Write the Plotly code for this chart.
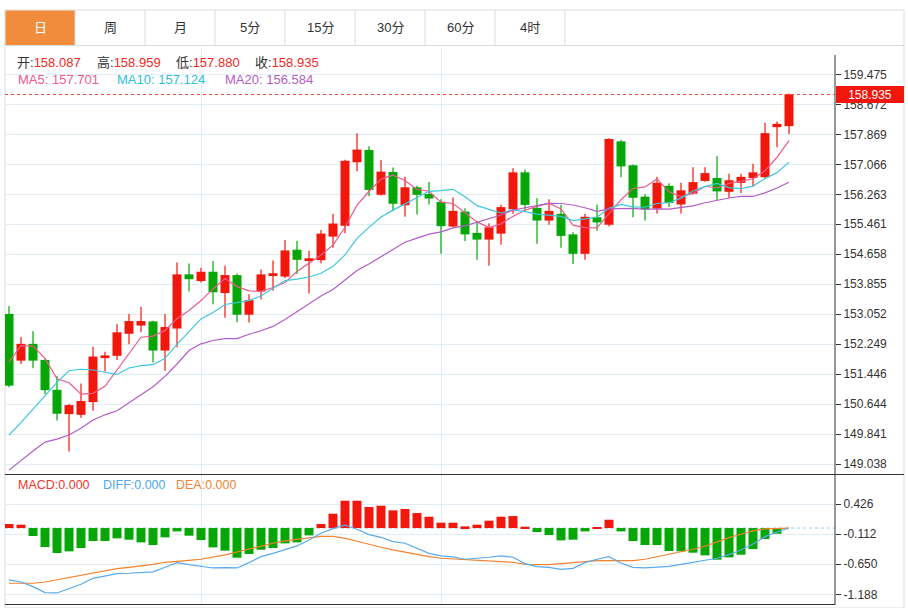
import plotly.graph_objects as go

W, H = 908, 608

# ---------------- data ----------------
opens = [153.06, 151.81, 152.26, 151.83, 151.03, 150.38, 150.36, 150.70, 151.88, 151.94,
         152.53, 152.75, 152.86, 152.08, 152.67, 154.12, 153.94, 154.19, 153.62, 154.10,
         153.04, 153.66, 154.10, 154.06, 154.78, 154.50, 154.50, 155.13, 155.42, 157.12,
         157.45, 156.25, 156.86, 155.97, 156.45, 156.27, 156.06, 155.40, 155.80, 155.23,
         155.05, 155.21, 155.86, 156.85, 155.90, 155.56, 155.74, 155.19, 154.67, 155.65,
         155.45, 157.68, 157.04, 156.20, 155.88, 156.49, 155.99, 156.28, 156.62, 156.70,
         156.33, 156.57, 156.70, 156.72, 158.06, 158.087]
highs = [153.27, 152.44, 152.60, 151.86, 151.40, 150.65, 151.20, 152.18, 152.05, 152.79,
         153.06, 153.25, 152.88, 153.06, 154.44, 154.41, 154.30, 154.48, 154.35, 154.14,
         153.59, 154.25, 154.49, 155.04, 155.01, 154.75, 155.31, 155.74, 157.19, 157.90,
         157.55, 157.18, 156.98, 156.73, 156.49, 156.59, 156.13, 156.18, 155.89, 155.53,
         155.49, 155.98, 156.96, 156.93, 156.16, 156.13, 155.98, 155.25, 155.74, 155.98,
         157.76, 157.72, 157.06, 156.27, 156.73, 156.56, 156.57, 156.99, 156.99, 157.29,
         156.81, 156.81, 157.08, 158.18, 158.21, 158.959]
lows = [151.10, 151.72, 151.61, 150.92, 150.21, 149.38, 150.28, 150.47, 151.52, 151.83,
        152.25, 152.57, 151.76, 151.54, 152.17, 153.66, 153.90, 153.32, 152.96, 152.84,
        152.83, 153.45, 153.68, 154.02, 154.13, 153.61, 154.42, 154.83, 155.22, 156.88,
        156.21, 156.23, 155.81, 155.66, 155.72, 155.99, 154.67, 155.38, 155.01, 154.51,
        154.35, 154.91, 155.74, 155.82, 154.94, 155.45, 154.83, 154.40, 154.51, 155.29,
        155.40, 156.72, 155.65, 155.56, 155.75, 155.92, 155.75, 156.26, 156.60, 156.11,
        156.17, 156.30, 156.47, 156.70, 157.52, 157.880]
closes = [151.14, 152.26, 151.81, 151.02, 150.39, 150.62, 150.73, 151.92, 151.95, 152.57,
          152.87, 152.87, 152.08, 152.71, 154.12, 153.99, 154.19, 153.64, 154.10, 153.04,
          153.43, 154.12, 154.15, 154.76, 154.51, 154.55, 155.21, 155.48, 157.16, 157.46,
          156.38, 156.87, 156.01, 156.45, 156.25, 156.15, 155.41, 155.82, 155.19, 155.05,
          155.38, 155.92, 156.85, 155.98, 155.56, 155.82, 155.15, 154.67, 155.66, 155.51,
          157.74, 157.01, 156.17, 155.87, 156.57, 156.03, 156.37, 156.59, 156.83, 156.34,
          156.64, 156.73, 156.85, 157.90, 158.15, 158.935]

ma5 = [151.78, 152.21, 152.20, 151.87, 151.324, 151.220, 150.914, 150.936, 151.122, 151.558,
       152.008, 152.436, 152.468, 152.620, 152.930, 153.154, 153.418, 153.730, 154.008, 153.792,
       153.680, 153.666, 153.768, 153.900, 154.194, 154.418, 154.636, 154.902, 155.382, 155.972,
       156.338, 156.670, 156.776, 156.634, 156.392, 156.346, 156.054, 156.016, 155.764, 155.524,
       155.370, 155.472, 155.678, 155.836, 155.938, 156.026, 155.872, 155.436, 155.372, 155.362,
       155.746, 156.118, 156.418, 156.460, 156.672, 156.330, 156.202, 156.286, 156.478, 156.432,
       156.554, 156.626, 156.678, 156.892, 157.254, 157.701]
ma10 = [149.82, 150.15, 150.51, 150.87, 151.23, 151.54, 151.58, 151.56, 151.50, 151.441,
        151.614, 151.675, 151.702, 151.871, 152.244, 152.581, 152.927, 153.099, 153.314, 153.361,
        153.417, 153.542, 153.749, 153.954, 153.993, 154.049, 154.151, 154.335, 154.641, 155.083,
        155.378, 155.653, 155.839, 156.008, 156.182, 156.342, 156.362, 156.396, 156.199, 155.958,
        155.858, 155.763, 155.847, 155.800, 155.731, 155.698, 155.672, 155.557, 155.604, 155.650,
        155.886, 155.995, 155.927, 155.916, 156.017, 156.038, 156.160, 156.352, 156.469, 156.552,
        156.442, 156.414, 156.482, 156.685, 156.843, 157.124]
ma20 = [148.88, 149.14, 149.39, 149.63, 149.71, 149.82, 150.00, 150.22, 150.36, 150.47,
        150.68, 150.89, 151.11, 151.39, 151.72, 152.08, 152.26, 152.35, 152.40, 152.401,
        152.516, 152.609, 152.726, 152.913, 153.119, 153.315, 153.539, 153.717, 153.978, 154.222,
        154.398, 154.598, 154.794, 154.981, 155.088, 155.196, 155.257, 155.366, 155.420, 155.521,
        155.618, 155.708, 155.843, 155.904, 155.957, 156.020, 156.017, 155.977, 155.902, 155.804,
        155.872, 155.879, 155.887, 155.858, 155.874, 155.868, 155.916, 155.955, 156.037, 156.101,
        156.164, 156.205, 156.205, 156.301, 156.430, 156.584]

macd = [0.072, 0.060, -0.143, -0.341, -0.448, -0.418, -0.359, -0.233, -0.233, -0.185,
        -0.209, -0.257, -0.305, -0.167, -0.060, -0.137, -0.215, -0.347, -0.406, -0.532,
        -0.466, -0.389, -0.359, -0.275, -0.257, -0.132, 0.072, 0.257, 0.490, 0.490,
        0.377, 0.401, 0.317, 0.341, 0.269, 0.203, 0.096, 0.096, 0.030, 0.060,
        0.132, 0.203, 0.215, 0.024, -0.072, -0.126, -0.221, -0.209, -0.060, 0.006,
        0.149, -0.060, -0.233, -0.305, -0.305, -0.412, -0.418, -0.442, -0.490, -0.568,
        -0.526, -0.478, -0.377, -0.197, -0.102, 0.000]
diff = [-0.931, -0.967, -1.050, -1.158, -1.164, -1.086, -1.009, -0.901, -0.859, -0.817,
        -0.811, -0.805, -0.787, -0.704, -0.620, -0.656, -0.680, -0.716, -0.710, -0.716,
        -0.620, -0.512, -0.453, -0.381, -0.321, -0.213, -0.094, -0.010, 0.050, -0.022,
        -0.118, -0.166, -0.243, -0.273, -0.369, -0.453, -0.500, -0.518, -0.560, -0.548,
        -0.524, -0.500, -0.524, -0.638, -0.692, -0.704, -0.740, -0.722, -0.620, -0.560,
        -0.512, -0.626, -0.704, -0.716, -0.704, -0.686, -0.650, -0.614, -0.584, -0.542,
        -0.476, -0.393, -0.285, -0.154, -0.070, 0.000]
dea = [-0.990, -0.990, -0.990, -0.968, -0.928, -0.880, -0.836, -0.795, -0.755, -0.727,
       -0.704, -0.680, -0.650, -0.614, -0.590, -0.578, -0.560, -0.524, -0.482, -0.429,
       -0.375, -0.321, -0.273, -0.231, -0.201, -0.171, -0.148, -0.148, -0.184, -0.237,
       -0.297, -0.345, -0.393, -0.435, -0.476, -0.512, -0.542, -0.554, -0.560, -0.566,
       -0.578, -0.596, -0.614, -0.650, -0.656, -0.656, -0.638, -0.620, -0.596, -0.584,
       -0.584, -0.590, -0.584, -0.560, -0.518, -0.470, -0.423, -0.381, -0.327, -0.249,
       -0.171, -0.112, -0.052, -0.016, -0.004, 0.000]

price_ticks = [149.038, 149.841, 150.644, 151.446, 152.249, 153.052, 153.855,
               154.658, 155.461, 156.263, 157.066, 157.869, 158.672, 159.475]
macd_ticks = [0.426, -0.112, -0.650, -1.188]
tabs = ["日", "周", "月", "5分", "15分", "30分", "60分", "4时"]
month_marks = [16, 36]

# ---------------- styles ----------------
UP = "#F2170C"
DOWN = "#05A605"
C_MA5 = "#EE5A8C"
C_MA10 = "#3EC6DE"
C_MA20 = "#B35CC8"
C_DIFF = "#5AAAEE"
C_DEA = "#F5822C"
GRID = "#E1ECF3"
BORDER = "#DCDCDC"
DARK = "#333333"
TXT_RED = "#F2281E"
FONT = "Liberation Sans, Noto Sans CJK SC, sans-serif"


def px(v):
    return v / W


def py(v):
    return 1 - v / H


idx = list(range(len(closes)))
up_idx = [i for i in idx if closes[i] >= opens[i]]
dn_idx = [i for i in idx if closes[i] < opens[i]]

fig = go.Figure()


def wick_xy(ids):
    xs, ys = [], []
    for i in ids:
        xs += [i, i, None]
        ys += [lows[i], highs[i], None]
    return xs, ys


for ids, col in ((up_idx, UP), (dn_idx, DOWN)):
    wx, wy = wick_xy(ids)
    fig.add_trace(go.Scatter(x=wx, y=wy, mode="lines", line=dict(color=col, width=1.2),
                             xaxis="x", yaxis="y", hoverinfo="skip"))

fig.add_trace(go.Bar(
    x=idx, base=opens, y=[c - o for o, c in zip(opens, closes)], width=0.75,
    marker=dict(color=[UP if closes[i] >= opens[i] else DOWN for i in idx], line=dict(width=0)),
    xaxis="x", yaxis="y"))

for arr, col in ((ma5, C_MA5), (ma10, C_MA10), (ma20, C_MA20)):
    fig.add_trace(go.Scatter(x=idx, y=arr, mode="lines", line=dict(color=col, width=1.2),
                             xaxis="x", yaxis="y"))

fig.add_trace(go.Bar(
    x=idx, y=macd, width=0.75,
    marker=dict(color=[UP if v >= 0 else DOWN for v in macd], line=dict(width=0)),
    xaxis="x2", yaxis="y2"))
fig.add_trace(go.Scatter(x=idx, y=dea, mode="lines", line=dict(color=C_DEA, width=1.2),
                         xaxis="x2", yaxis="y2"))
fig.add_trace(go.Scatter(x=idx, y=diff, mode="lines", line=dict(color=C_DIFF, width=1.2),
                         xaxis="x2", yaxis="y2"))

xdom = [px(5), px(835)]
xrange_ = [-0.333, 68.833]
axis_font = dict(family=FONT, size=12, color=DARK)

fig.update_layout(
    width=W, height=H, margin=dict(l=0, r=0, t=0, b=0),
    paper_bgcolor="white", plot_bgcolor="white", showlegend=False,
    xaxis=dict(domain=xdom, range=xrange_, anchor="y", tickvals=month_marks, showticklabels=False,
               showgrid=True, gridcolor=GRID, zeroline=False, showline=False, ticks=""),
    xaxis2=dict(domain=xdom, range=xrange_, anchor="y2", matches="x", tickvals=month_marks,
                showticklabels=False, showgrid=True, gridcolor=GRID, zeroline=False,
                showline=False, ticks=""),
    yaxis=dict(domain=[py(474), py(48)], range=[148.776, 160.179], anchor="x", side="right",
               tickvals=price_ticks, ticktext=[f"{t:.3f}" for t in price_ticks],
               ticks="outside", ticklen=5, tickcolor=DARK, tickfont=axis_font,
               showgrid=True, gridcolor=GRID, zeroline=False, showline=False),
    yaxis2=dict(domain=[py(604), py(474)], range=[-1.362, 0.969], anchor="x2", side="right",
                tickvals=macd_ticks, ticktext=[f"{t:.3f}" for t in macd_ticks],
                ticks="outside", ticklen=5, tickcolor=DARK, tickfont=axis_font,
                showgrid=True, gridcolor=GRID, zeroline=False, showline=False),
)

shapes = []
# outer frame
shapes.append(dict(type="rect", xref="paper", yref="paper", x0=px(5), x1=px(904), y0=py(608), y1=py(10),
                   line=dict(color=BORDER, width=1), fillcolor="rgba(0,0,0,0)", layer="below"))
# tabs
shapes.append(dict(type="rect", xref="paper", yref="paper", x0=px(5.5), x1=px(75), y0=py(45), y1=py(10.5),
                   line=dict(width=0), fillcolor="#F28C3D", layer="below"))
for k in range(1, len(tabs) + 1):
    xx = 5 + 70 * k
    shapes.append(dict(type="line", xref="paper", yref="paper", x0=px(xx), x1=px(xx), y0=py(45), y1=py(10),
                       line=dict(color=BORDER, width=1)))
shapes.append(dict(type="line", xref="paper", yref="paper", x0=px(5), x1=px(904), y0=py(45.5), y1=py(45.5),
                   line=dict(color=BORDER, width=1)))
# axis / panel lines
shapes.append(dict(type="line", xref="paper", yref="paper", x0=px(835), x1=px(835), y0=py(605), y1=py(55),
                   line=dict(color=DARK, width=1)))
shapes.append(dict(type="line", xref="paper", yref="paper", x0=px(5), x1=px(904), y0=py(474.5), y1=py(474.5),
                   line=dict(color=DARK, width=1)))
shapes.append(dict(type="line", xref="paper", yref="paper", x0=px(5), x1=px(835), y0=py(604.5), y1=py(604.5),
                   line=dict(color=DARK, width=1)))
# last price dotted line
shapes.append(dict(type="line", xref="x domain", yref="y", x0=0, x1=1, y0=closes[-1], y1=closes[-1],
                   line=dict(color="#F0463A", width=1, dash="dot")))
# MACD zero dotted line
shapes.append(dict(type="line", xref="x2 domain", yref="y2", x0=0, x1=1, y0=0, y1=0,
                   line=dict(color="#9CCBEB", width=1, dash="dot"), layer="below"))
fig.update_layout(shapes=shapes)

ann = []
for k, t in enumerate(tabs):
    ann.append(dict(xref="paper", yref="paper", x=px(40 + 70 * k), y=py(27.5), text=t, showarrow=False,
                    xanchor="center", yanchor="middle",
                    font=dict(family=FONT, size=13, color="white" if k == 0 else DARK)))

ohlc = [("开", opens[-1], 15), ("高", highs[-1], 94.5), ("低", lows[-1], 174), ("收", closes[-1], 253)]
for lab, val, xx in ohlc:
    ann.append(dict(xref="paper", yref="paper", x=px(xx), y=py(62.5), xanchor="left", yanchor="middle",
                    showarrow=False, text=f'{lab}:<span style="color:{TXT_RED}">{val:.3f}</span>',
                    font=dict(family=FONT, size=13, color=DARK)))

mas = [("MA5", ma5[-1], 16, C_MA5), ("MA10", ma10[-1], 115, "#2EC0DC"), ("MA20", ma20[-1], 223, "#B45DC6")]
for lab, val, xx, col in mas:
    ann.append(dict(xref="paper", yref="paper", x=px(xx), y=py(80), xanchor="left", yanchor="middle",
                    showarrow=False, text=f"{lab}: {val:.3f}", font=dict(family=FONT, size=13, color=col)))

macd_labels = [("MACD", macd[-1], 15.5, "#F0362A"), ("DIFF", diff[-1], 100.5, "#4DA8EE"),
               ("DEA", dea[-1], 174, "#F58233")]
for lab, val, xx, col in macd_labels:
    ann.append(dict(xref="paper", yref="paper", x=px(xx), y=py(485), xanchor="left", yanchor="middle",
                    showarrow=False, text=f"{lab}:{abs(val):.3f}", font=dict(family=FONT, size=12.5, color=col)))

# last price tag
ann.append(dict(xref="paper", yref="y", x=px(836), y=closes[-1], xanchor="left", yanchor="middle",
                showarrow=False, text=f"{closes[-1]:.3f}", bgcolor="#F2170C", borderwidth=0, borderpad=2,
                width=64, height=13, font=dict(family=FONT, size=12, color="white")))
fig.update_layout(annotations=ann)

fig.write_html("out.html", config={"displayModeBar": False},
               post_script="document.body.style.margin='0';document.body.style.overflow='hidden';")
